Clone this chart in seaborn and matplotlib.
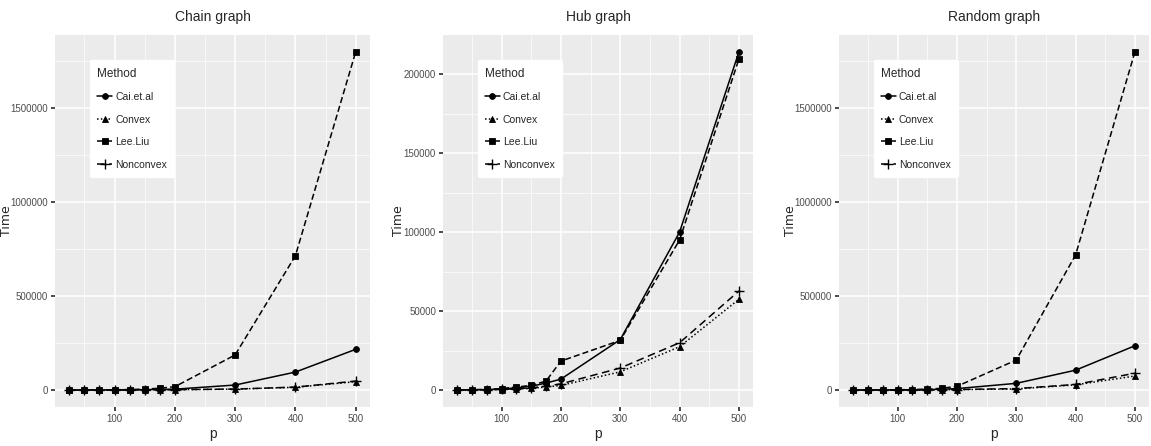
import pandas as pd
import numpy as np
import matplotlib
matplotlib.use("Agg")
import matplotlib.pyplot as plt
import matplotlib.ticker as mticker
import seaborn as sns

# --- data ---
p_values = [25, 50, 75, 100, 125, 150, 175, 200, 300, 400, 500]
methods = ["Cai.et.al", "Convex", "Lee.Liu", "Nonconvex"]

chain_cai = [300, 500, 800, 1200, 1800, 2500, 3500, 5000, 27000, 96000, 217000]
chain_convex = [100, 200, 300, 500, 700, 1000, 1500, 2200, 5000, 15000, 45000]
chain_leeliu = [500, 800, 1200, 1800, 3000, 5000, 10000, 18000, 187000, 715000, 1800000]
chain_nonconvex = [100, 200, 300, 500, 800, 1100, 1600, 2500, 5500, 16000, 48000]

hub_cai = [100, 200, 400, 700, 1500, 2500, 4500, 7000, 32000, 100000, 214000]
hub_convex = [50, 100, 200, 400, 700, 1200, 2000, 3000, 11600, 27500, 57500]
hub_leeliu = [200, 300, 500, 1000, 2000, 3000, 5800, 18400, 31500, 95000, 209500]
hub_nonconvex = [50, 100, 250, 500, 900, 1500, 2500, 4000, 14000, 30000, 62700]

random_cai = [300, 500, 800, 1200, 1800, 2800, 4500, 8000, 36000, 106000, 236000]
random_convex = [100, 200, 300, 500, 700, 1000, 1500, 2500, 6000, 28000, 75000]
random_leeliu = [500, 800, 1200, 1800, 3000, 5000, 10000, 20000, 160000, 719000, 1800000]
random_nonconvex = [100, 200, 300, 500, 800, 1100, 1800, 3000, 8000, 30000, 90000]

panels = [
    ("Chain graph", [chain_cai, chain_convex, chain_leeliu, chain_nonconvex],
     [0, 500000, 1000000, 1500000]),
    ("Hub graph", [hub_cai, hub_convex, hub_leeliu, hub_nonconvex],
     [0, 50000, 100000, 150000, 200000]),
    ("Random graph", [random_cai, random_convex, random_leeliu, random_nonconvex],
     [0, 500000, 1000000, 1500000]),
]

# --- style (ggplot-ish) ---
sns.set_theme(style="darkgrid", rc={
    "axes.facecolor": "#EBEBEB",
    "grid.color": "white",
    "axes.edgecolor": "#EBEBEB",
})
plt.rcParams["font.family"] = ["Liberation Sans Narrow", "Liberation Sans", "DejaVu Sans"]

dashes = {"Cai.et.al": "", "Convex": (1, 1.5), "Lee.Liu": (4, 2), "Nonconvex": (5, 3)}
# seaborn refuses to mix filled and line markers, so "P" is swapped for "+" afterwards
markers = {"Cai.et.al": "o", "Convex": "^", "Lee.Liu": "s", "Nonconvex": "P"}


def plus_marker(line):
    if line.get_marker() == "P":
        line.set_marker("+")
        line.set_markersize(7)
        line.set_markeredgewidth(1.0)


W, H = 1151, 446
fig = plt.figure(figsize=(W / 100, H / 100), dpi=100)

# panel boxes in pixels: left, width, x of the "Time" label
boxes = [(55, 315, 13), (443, 310, 405), (839, 310, 797)]
top_px, bottom_px = 35, 407

for (title, series, yticks), (left, width, lab_x) in zip(panels, boxes):
    ax = fig.add_axes([left / W, (H - bottom_px) / H, width / W, (bottom_px - top_px) / H])
    rows = []
    for m, vals in zip(methods, series):
        for p, t in zip(p_values, vals):
            rows.append({"p": p, "Time": t, "Method": m})
    df = pd.DataFrame(rows)

    sns.lineplot(data=df, x="p", y="Time", style="Method", style_order=methods,
                 dashes=dashes, markers=markers, color="black", linewidth=1.1,
                 markersize=4.2, markeredgewidth=0.6, markeredgecolor="black",
                 ax=ax, legend=True)
    for ln in ax.lines:
        plus_marker(ln)

    # expand 5% like ggplot
    ymax = max(max(s) for s in series)
    ymin = min(min(s) for s in series)
    span = ymax - ymin
    ax.set_ylim(ymin - 0.05 * span, ymax + 0.05 * span)
    ax.set_xlim(25 - 0.05 * 475, 500 + 0.05 * 475)

    ax.set_xticks([100, 200, 300, 400, 500])
    ax.xaxis.set_minor_locator(mticker.FixedLocator([50, 150, 250, 350, 450]))
    ax.set_yticks(yticks)
    step = yticks[1] - yticks[0]
    ax.yaxis.set_minor_locator(mticker.MultipleLocator(step / 2))
    ax.yaxis.set_major_formatter(mticker.FuncFormatter(lambda v, pos: f"{int(v)}"))
    ax.grid(which="major", color="white", linewidth=1.1)
    ax.grid(which="minor", color="white", linewidth=0.5)
    ax.tick_params(axis="both", which="major", labelsize=7, labelcolor="#4D4D4D",
                   length=3, color="#333333", pad=2)
    ax.tick_params(axis="both", which="minor", length=0)
    ax.tick_params(left=True, bottom=True)
    for s in ax.spines.values():
        s.set_visible(False)

    ax.set_title(title, fontsize=10, pad=10)
    ax.set_xlabel("p", fontsize=10, labelpad=2)
    ax.set_ylabel("Time", fontsize=9, family=["DejaVu Sans"])
    ax.yaxis.set_label_coords((lab_x - left) / width, 0.5)

    leg = ax.legend(title="Method", loc="upper left", bbox_to_anchor=(0.095, 0.946),
                    frameon=True, fontsize=7.5, title_fontsize=8.5, handlelength=1.4,
                    handletextpad=0.3, labelspacing=1.2, borderpad=0.7)
    for h in leg.legend_handles:
        plus_marker(h)
    leg.get_frame().set_facecolor("white")
    leg.get_frame().set_edgecolor("white")
    leg.get_frame().set_alpha(1)
    leg._legend_box.align = "left"

fig.savefig("out.png", dpi=100)
